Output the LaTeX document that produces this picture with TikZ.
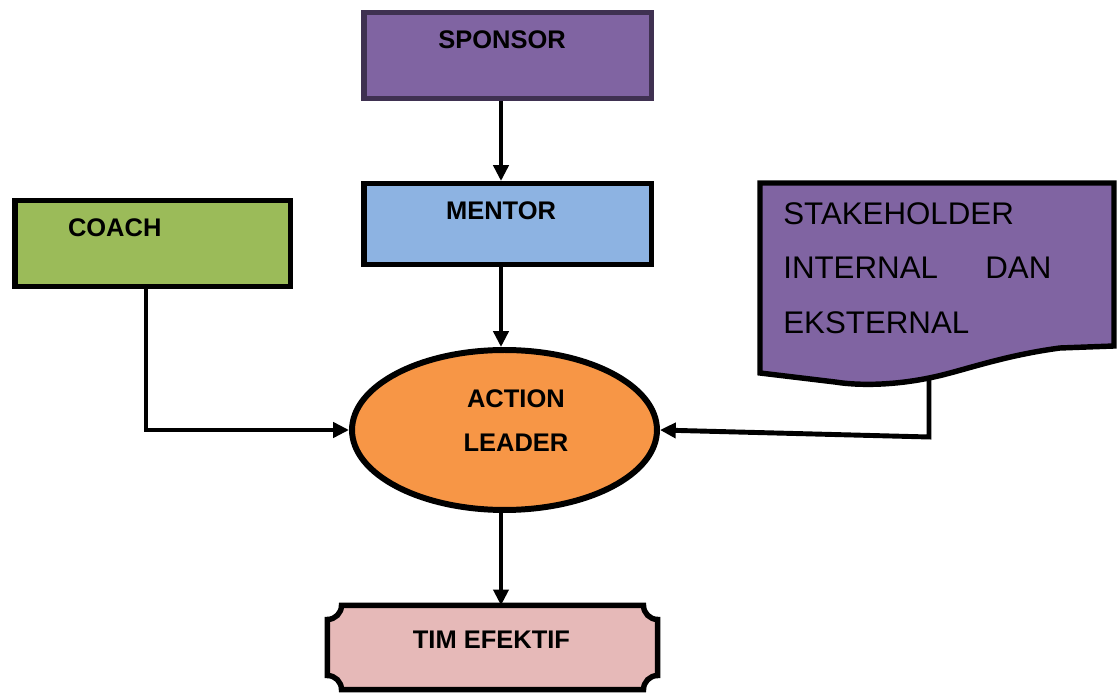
\documentclass[tikz,border=0pt]{standalone}
\usepackage{fontspec}
\setmainfont{Liberation Sans}
\usepackage{tikz}
\usetikzlibrary{arrows.meta,calc,shapes.geometric}

\definecolor{sponsorfill}{HTML}{8064A2}
\definecolor{sponsorline}{HTML}{3F3151}
\definecolor{mentorfill}{HTML}{8DB3E2}
\definecolor{coachfill}{HTML}{9BBB59}
\definecolor{leaderfill}{HTML}{F79646}
\definecolor{timfill}{HTML}{E6B9B8}

\begin{document}
\begin{tikzpicture}[x=0.02cm, y=-0.02cm,
    box/.style={rectangle, draw=black, line width=3.1pt, inner sep=0pt},
    lbl/.style={font=\fontsize{14.5}{25.5}\selectfont\bfseries, inner sep=0pt},
    arr/.style={line width=2.8pt, -{Triangle[length=9pt, width=8.5pt]}}]
\useasboundingbox (0,0) rectangle (1117,695);
\coordinate (axis) at (501,0);

\node[box, fill=sponsorfill, draw=sponsorline, minimum width=5.75cm, minimum height=1.71cm,
    label={[lbl, xshift=-3.1pt, yshift=8.8pt]center:SPONSOR}] (sponsor) at (507.5,55.5) {};
\node[box, fill=mentorfill, minimum width=5.75cm, minimum height=1.61cm,
    label={[lbl, xshift=-3.7pt, yshift=7.4pt]center:MENTOR}] (mentor) at (507.5,224) {};
\node[box, fill=coachfill, minimum width=5.51cm, minimum height=1.71cm,
    label={[lbl, xshift=-21.5pt, yshift=8.8pt]center:COACH}] (coach) at (152.5,243.5) {};
\node[ellipse, draw=black, line width=3.4pt, fill=leaderfill, inner sep=0pt,
    minimum width=6.1cm, minimum height=3.2cm,
    label={[lbl, align=center, xshift=6.5pt, yshift=5.4pt]center:ACTION\\LEADER}] (leader) at (504.5,430) {};

% tim efektif, plaque corners
\node[minimum width=6.59cm, minimum height=1.67cm, inner sep=0pt] (tim) at (492.5,647.5) {};
\draw[line width=3.1pt, fill=timfill] ([xshift=8pt]tim.north west) -- ([xshift=-8pt]tim.north east)
    arc[start angle=180, end angle=270, radius=8pt] -- ([yshift=8pt]tim.south east)
    arc[start angle=90, end angle=180, radius=8pt] -- ([xshift=8pt]tim.south west)
    arc[start angle=0, end angle=90, radius=8pt] -- ([yshift=-8pt]tim.north west)
    arc[start angle=270, end angle=360, radius=8pt] -- cycle;
\node[lbl] (timtext) at ([xshift=-0.6pt, yshift=4.3pt]tim.center) {TIM EFEKTIF};

% stakeholder document
\draw[line width=3.1pt, fill=sponsorfill] (760,183) -- (1114,183) -- (1114,346) -- (1060,348)
    .. controls (1000,356) and (960,372) .. (929,378)
    .. controls (895,385) and (860,386) .. (835,382) -- (760,373) -- cycle;
\node[anchor=north west, align=left, inner sep=0pt, font=\fontsize{17.8}{31}\selectfont] (stake) at (783,202)
    {STAKEHOLDER\\INTERNAL\hspace{27pt}DAN\\EKSTERNAL};
\coordinate (stakefoot) at (929,378);
\coordinate (stakebend) at (929,437);

\draw[arr] (sponsor.south -| axis) -- (mentor.north -| axis);
\draw[arr] (mentor.south -| axis) -- (leader.north -| axis);
\draw[arr] (leader.south -| axis) -- (tim.north -| axis);
\draw[arr] ([xshift=-0.13cm]coach.south) |- (leader.west);
\draw[arr] (stakefoot) -- (stakebend) -- (leader.east);

\end{tikzpicture}
\end{document}
